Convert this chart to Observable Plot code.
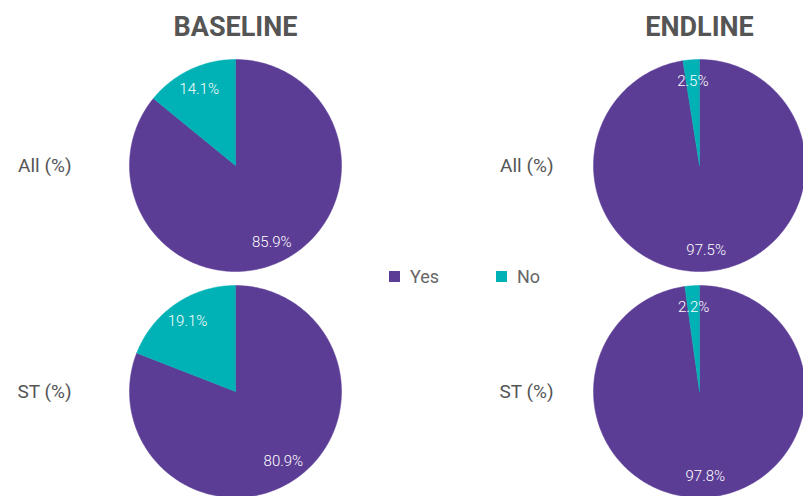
<!DOCTYPE html>
<html>
<head>
<meta charset="utf-8">
<script src="https://cdn.jsdelivr.net/npm/d3@7"></script>
<script src="https://cdn.jsdelivr.net/npm/@observablehq/plot@0.6"></script>
<style>
  html, body { margin: 0; padding: 0; background: #fff; overflow: hidden; }
  #wrap { position: relative; width: 803px; height: 496px; overflow: hidden; }
  #legend { position: absolute; left: 389px; top: 266px; display: flex; font-family: Roboto, sans-serif; font-size: 18px; color: #666; }
  #legend .item { display: flex; align-items: center; width: 107px; }
  #legend .sw { width: 11px; height: 11px; margin-right: 10px; }
</style>
</head>
<body>
<div id="wrap"><div id="chart"></div><div id="legend"></div></div>
<script>
const periods = ["BASELINE", "ENDLINE"];
const groups = ["All (%)", "ST (%)"];
const answers = ["Yes", "No"];
const baselineYes = [85.9, 80.9];
const baselineNo = [14.1, 19.1];
const endlineYes = [97.5, 97.8];
const endlineNo = [2.5, 2.2];
const colors = ["#5c3d96", "#00b2b5"];

const values = {
  BASELINE: [baselineYes, baselineNo],
  ENDLINE: [endlineYes, endlineNo]
};

const pie = d3.pie().sort(null).value(d => d.value);
const slices = [];
const labels = [];
const rowLabels = [];
for (const period of periods) {
  groups.forEach((group, gi) => {
    rowLabels.push({period, group});
    const data = answers.map((answer, ai) => ({answer, value: values[period][ai][gi]}));
    for (const arc of pie(data)) {
      const key = period + "|" + group + "|" + arc.data.answer;
      const n = Math.max(2, Math.ceil((arc.endAngle - arc.startAngle) / (Math.PI / 180)));
      slices.push({period, group, answer: arc.data.answer, key, x: 0, y: 0});
      for (let k = 0; k <= n; k++) {
        const a = arc.startAngle + (arc.endAngle - arc.startAngle) * k / n;
        slices.push({period, group, answer: arc.data.answer, key, x: Math.sin(a), y: Math.cos(a)});
      }
      slices.push({period, group, answer: arc.data.answer, key, x: 0, y: 0});
      const m = (arc.startAngle + arc.endAngle) / 2;
      labels.push({period, group, x: 0.8 * Math.sin(m), y: 0.8 * Math.cos(m), label: arc.data.value.toFixed(1) + "%"});
    }
  });
}

const plot = Plot.plot({
  width: 805,
  height: 497,
  marginLeft: 128,
  marginRight: 0,
  marginTop: 59,
  marginBottom: 0,
  style: {fontFamily: "Roboto, sans-serif", maxWidth: "none", overflow: "visible", background: "white"},
  x: {domain: [-1, 1], axis: null},
  y: {domain: [-1, 1], axis: null},
  fx: {domain: periods, paddingInner: 0.544, paddingOuter: 0, axis: null},
  fy: {domain: groups, paddingInner: 0.062, paddingOuter: 0, axis: null},
  color: {domain: answers, range: colors},
  marks: [
    Plot.line(slices, {x: "x", y: "y", z: "key", fill: "answer", stroke: "answer", strokeWidth: 0.5, fx: "period", fy: "group"}),
    Plot.text(labels, {x: "x", y: "y", text: "label", fx: "period", fy: "group", fill: "white", fontSize: 15, fontWeight: 300}),
    Plot.text(periods, {fx: d => d, fy: () => groups[0], text: d => d, frameAnchor: "top", lineAnchor: "bottom", dy: -24, fontSize: 27, fontWeight: "bold", fill: "#555"}),
    Plot.text(rowLabels.filter(d => d.period === periods[0]), {fx: "period", fy: "group", text: "group", frameAnchor: "left", textAnchor: "end", dx: -58, fontSize: 19, fill: "#555", style: "letter-spacing:0.5px"}),
    Plot.text(rowLabels.filter(d => d.period === periods[1]), {fx: "period", fy: "group", text: "group", frameAnchor: "left", textAnchor: "end", dx: -40, fontSize: 19, fill: "#555"})
  ]
});
document.getElementById("chart").appendChild(plot);

const color = plot.scale("color");
const legend = document.getElementById("legend");
for (const a of answers) {
  const item = document.createElement("div");
  item.className = "item";
  const sw = document.createElement("span");
  sw.className = "sw";
  sw.style.background = color.range[color.domain.indexOf(a)];
  const t = document.createElement("span");
  t.textContent = a;
  item.appendChild(sw);
  item.appendChild(t);
  legend.appendChild(item);
}
</script>
</body>
</html>
